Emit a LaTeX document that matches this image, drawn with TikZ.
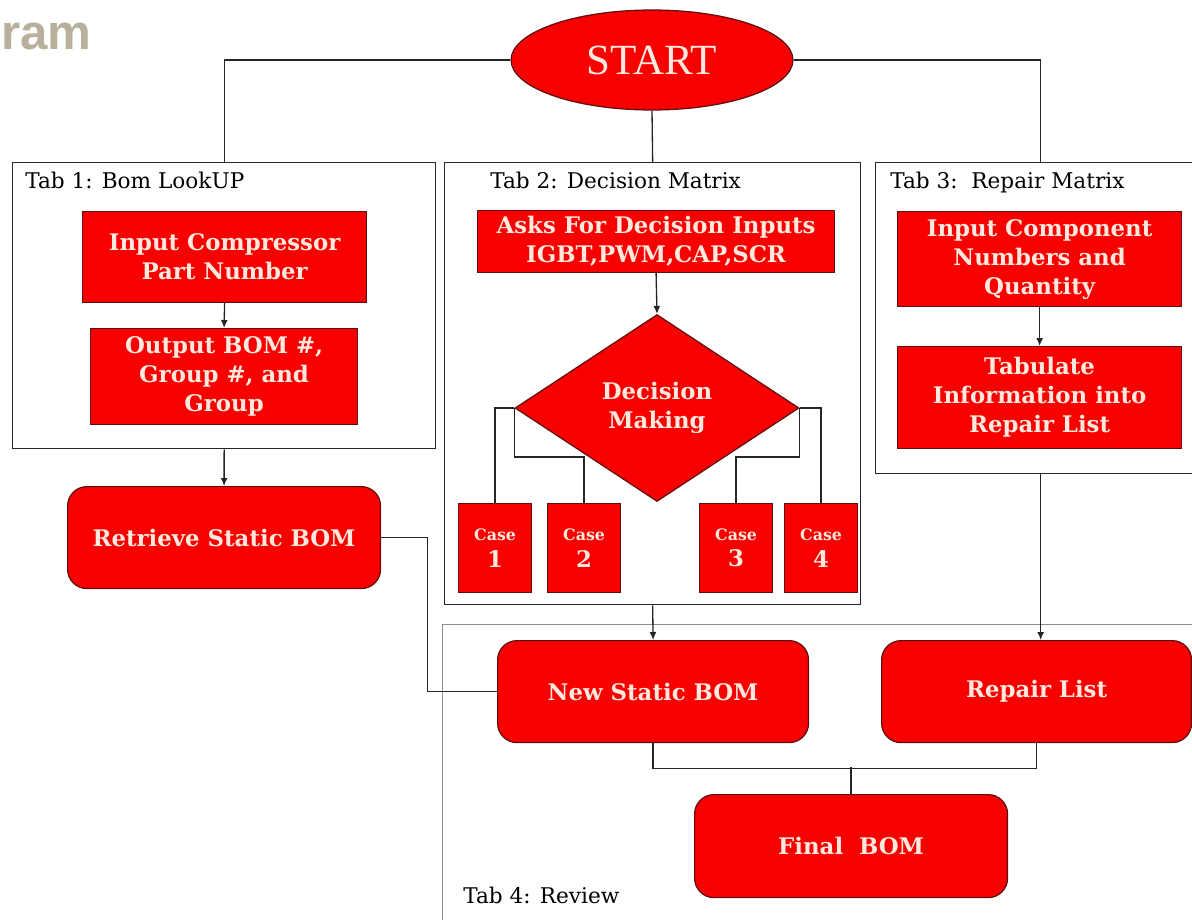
\documentclass[tikz,border=0pt]{standalone}
\usepackage{fontspec}
\setmainfont{DejaVu Serif}
\newfontfamily\startfont{Liberation Serif}
\newfontfamily\titlefont{Liberation Sans}
\usetikzlibrary{positioning,arrows.meta,shapes.geometric}
\definecolor{boxred}{RGB}{248,0,0}
\definecolor{boxedge}{RGB}{95,15,15}
\definecolor{boxtext}{RGB}{255,232,222}
\definecolor{titlegray}{RGB}{185,176,155}

\begin{document}
\begin{tikzpicture}[x=0.02cm, y=-0.02cm,
  redbox/.style={draw=boxedge, line width=0.7pt, fill=boxred, text=boxtext, align=center, inner sep=2pt, anchor=north west, font=\bfseries\fontsize{13}{16.5}\selectfont},
  roundbox/.style={redbox, rounded corners=11pt},
  casebox/.style={redbox, minimum width=1.46cm, minimum height=1.78cm, font=\bfseries\fontsize{9}{15}\selectfont},
  tab/.style={draw=black!85, line width=0.8pt, anchor=north west, inner sep=0pt},
  tablab/.style={anchor=base west, inner sep=0pt, font=\fontsize{12.3}{14}\selectfont},
  line/.style={draw=black!85, line width=0.75pt},
  arr/.style={line, -{Latex[length=1.6mm,width=1.4mm]}}]
  \useasboundingbox (0,0) rectangle (1192,919);
  \node[anchor=base west, inner sep=0pt, text=titlegray, font=\titlefont\bfseries\fontsize{28}{28}\selectfont] (title) at (1,50) {ram};

  % tabs
  \node[tab, minimum width=8.46cm, minimum height=5.72cm] (tabone) at (12,162) {};
  \node[tab, minimum width=8.32cm, minimum height=8.84cm] (tabtwo) at (444,162) {};
  \node[tab, minimum width=6.6cm, minimum height=6.22cm] (tabthree) at (875,162) {};
  \node[tab, draw=black!45, line width=0.55pt, minimum width=15.2cm, minimum height=6.2cm] (tabfour) at (442,624) {};
  \node[tablab] (tabonelab) at (25,188) {Tab 1: Bom LookUP};
  \node[tablab] (tabtwolab) at (490,188) {Tab 2: Decision Matrix};
  \node[tablab] (tabthreelab) at (890,188) {Tab 3:\ \ Repair Matrix};
  \node[tablab] (tabfourlab) at (463,903) {Tab 4: Review};

  \node[redbox, anchor=center, ellipse, inner sep=0pt, minimum width=5.64cm, minimum height=2cm, font=\startfont\fontsize{24.5}{24.5}\selectfont] (start) at (652,60) {START};

  % tab 1
  \node[redbox, minimum width=5.68cm, minimum height=1.82cm] (inpart) at (82,211) {Input Compressor\\Part Number};
  \node[redbox, minimum width=5.34cm, minimum height=1.92cm] (outbom) at (90,328) {Output BOM \#,\\Group \#, and\\Group};
  \node[roundbox, minimum width=6.26cm, minimum height=2.04cm] (retrieve) at (67,486) {Retrieve Static BOM};

  % tab 2
  \node[redbox, minimum width=7.14cm, minimum height=1.24cm] (asks) at (477,210) {Asks For Decision Inputs\\IGBT,PWM,CAP,SCR};
  \node[redbox, anchor=center, diamond, aspect=1.52, inner sep=0pt, minimum width=5.68cm, minimum height=3.74cm] (decide) at (657,408) {Decision\\Making};
  \node[casebox] (caseone) at (458,503) {Case\\{\fontsize{13}{15}\selectfont 1}};
  \node[casebox] (casetwo) at (547,503) {Case\\{\fontsize{13}{15}\selectfont 2}};
  \node[casebox] (casethree) at (699,503) {Case\\{\fontsize{13}{15}\selectfont 3}};
  \node[casebox] (casefour) at (784,503) {Case\\{\fontsize{13}{15}\selectfont 4}};

  % tab 3
  \node[redbox, minimum width=5.68cm, minimum height=1.9cm] (inputcomp) at (897,211) {Input Component\\Numbers and\\Quantity};
  \node[redbox, minimum width=5.68cm, minimum height=2.04cm] (tabulate) at (897,346) {Tabulate\\Information into\\Repair List};

  % tab 4
  \node[roundbox, minimum width=6.22cm, minimum height=2.04cm] (newbom) at (497,640) {New Static BOM};
  \node[roundbox, minimum width=6.2cm, minimum height=2.04cm] (repair) at (881,640) {Repair List};
  \node[roundbox, minimum width=6.26cm, minimum height=2.06cm] (finalbom) at (694,794) {Final\ \ BOM};

  % connectors
  \draw[line] (start.west) -| (tabone.north);
  \draw[line] (start.east) -| (tabthree.north);
  \draw[line] (start.south) -- (tabtwo.north);
  \draw[arr] (inpart.south) -- (outbom.north);
  \draw[arr] (tabone.south) -- (retrieve.north);
  \draw[line] (retrieve.east) -- ++(46,0) |- (newbom.west);
  \draw[arr] (asks.south) -- (decide.north);
  \draw[line] (decide.west) -| (caseone.north);
  \draw[line] (decide.west) -- ++(0,49) -| (casetwo.north);
  \draw[line] (decide.east) -- ++(0,49) -| (casethree.north);
  \draw[line] (decide.east) -| (casefour.north);
  \draw[arr] (tabtwo.south) -- (newbom.north);
  \draw[arr] (inputcomp.south) -- (tabulate.north);
  \draw[arr] (tabthree.south) -- (tabthree.south |- repair.north);
  \draw[line] (newbom.south) -- ++(0,25) -| (repair.south);
  \draw[line] (finalbom.north) -- ++(0,-27);
\end{tikzpicture}
\end{document}
